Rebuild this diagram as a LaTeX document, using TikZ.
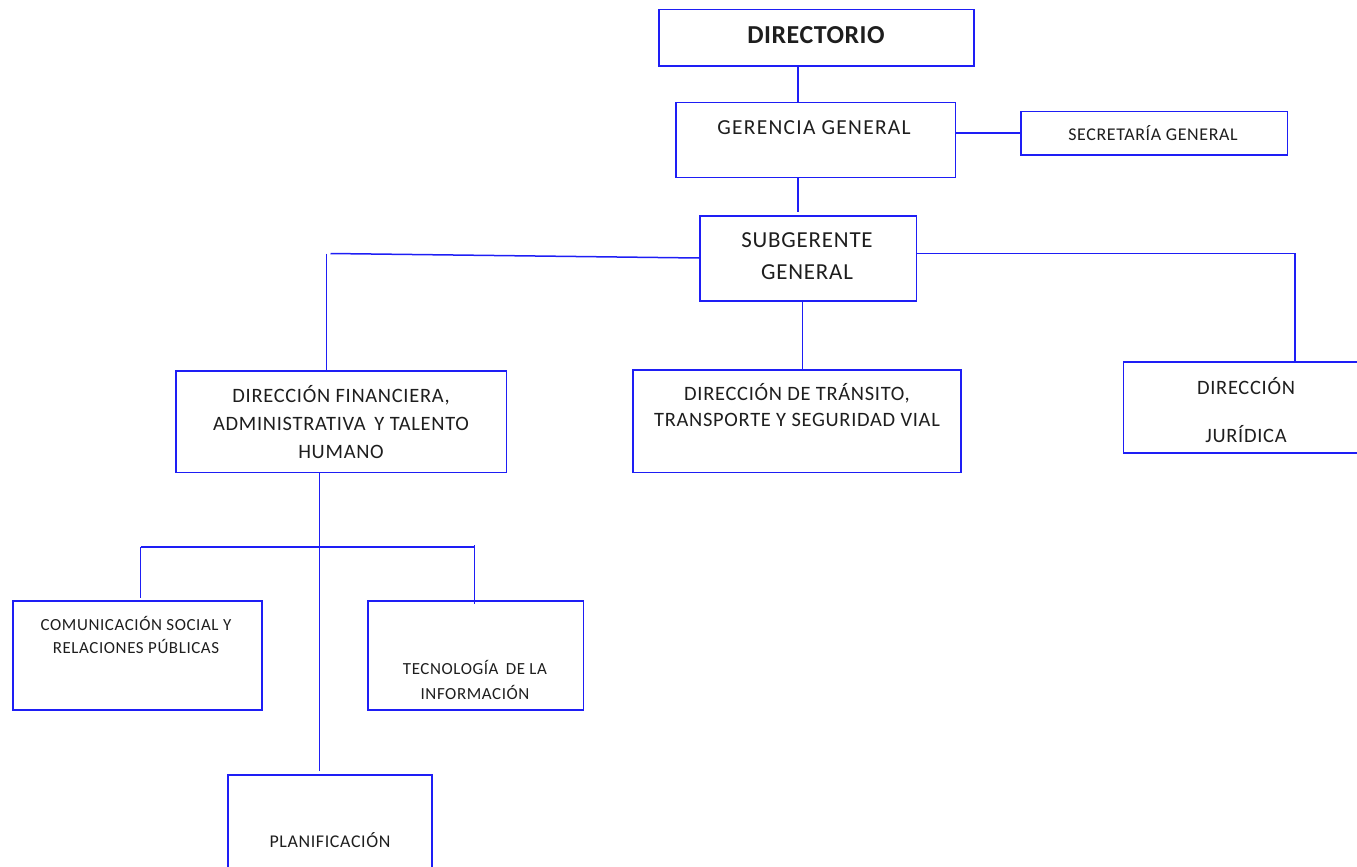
\documentclass[tikz,border=0pt]{standalone}
\usepackage{fontspec}
\setmainfont{Carlito}[LetterSpace=3.5]
\newfontfamily\lsw{Carlito}[LetterSpace=6]
\newfontfamily\lsb{Carlito}[LetterSpace=2,BoldFont={Carlito Bold}]
\definecolor{ln}{RGB}{30,30,245}
\definecolor{tx}{RGB}{30,30,30}
\begin{document}
\begin{tikzpicture}[x=1bp,y=-1bp,
  bx/.style={draw=ln,line width=1.5bp,fill=white,inner sep=0pt},
  lk/.style={draw=ln,line width=1.5bp},
  tt/.style={text=tx,align=center,inner sep=0pt,anchor=center}]
\useasboundingbox (0,0) rectangle (1357,866);
% boxes
\node[bx,minimum width=315bp,minimum height=56.5bp] (dir) at (816.5,37.75) {};
\node[bx,minimum width=279.5bp,minimum height=75bp] (gg) at (815.75,140) {};
\node[bx,minimum width=266.5bp,minimum height=43.5bp] (sec) at (1154.25,133.25) {};
\node[bx,minimum width=216.5bp,minimum height=85bp] (sub) at (808.25,258.5) {};
\node[bx,minimum width=330.5bp,minimum height=101.5bp] (dfa) at (341.25,421.75) {};
\node[bx,minimum width=328bp,minimum height=102.5bp] (dtt) at (797,421.25) {};
\node[bx,minimum width=238.5bp,minimum height=91bp] (dj) at (1242.75,407.5) {};
\node[bx,minimum width=249bp,minimum height=109bp] (com) at (137.5,655.5) {};
\node[bx,minimum width=215.5bp,minimum height=109bp] (tec) at (475.75,655.5) {};
\node[bx,minimum width=204bp,minimum height=95bp] (pla) at (330,822.5) {};
% texts
\node[tt,font=\lsb\fontsize{26}{30}\selectfont\bfseries] (tdir) at (816,35) {DIRECTORIO};
\node[tt,font=\lsw\fontsize{21.5}{26}\selectfont] (tgg) at (814,128) {GERENCIA GENERAL};
\node[tt,font=\fontsize{18}{22}\selectfont] (tsec) at (1153,133) {SECRETARÍA GENERAL};
\node[tt,font=\fontsize{23}{32}\selectfont] (tsub) at (807,256) {SUBGERENTE\\GENERAL};
\node[tt,font=\fontsize{20.5}{28}\selectfont] (tdfa) at (341,422) {DIRECCIÓN FINANCIERA,\\ADMINISTRATIVA\, Y TALENTO\\HUMANO};
\node[tt,font=\fontsize{20.5}{26}\selectfont] (tdtt) at (797,405) {DIRECCIÓN DE TRÁNSITO,\\TRANSPORTE Y SEGURIDAD VIAL};
\node[tt,font=\fontsize{20.5}{48}\selectfont] (tdj) at (1246,410) {DIRECCIÓN\\JURÍDICA};
\node[tt,font=\fontsize{17}{24}\selectfont] (tcom) at (136,635) {COMUNICACIÓN SOCIAL Y\\RELACIONES PÚBLICAS};
\node[tt,font=\fontsize{17}{26}\selectfont] (ttec) at (475,680) {TECNOLOGÍA\, DE LA\\INFORMACIÓN};
\node[tt,font=\fontsize{18}{22}\selectfont] (tpla) at (330,840) {PLANIFICACIÓN};
% connectors
\coordinate (lefttop) at (330.5,253.5);
\coordinate (comtop) at (140.5,547);
\coordinate (tectop) at (474.5,545);
\draw[lk] (dir.south -| 798,0) -- (gg.north -| 798,0);
\draw[lk] (gg.south -| 798,0) -- (798,212);
\draw[lk] (gg.east |- 0,133) -- (sec.west |- 0,133);
\draw[lk] (sub.west |- 0,258) -- (lefttop);
\draw[lk] (326.5,253.5) -- (dfa.north -| 326.5,0);
\draw[lk] (sub.east |- 0,253.5) -- (1295,253.5) -- (dj.north -| 1295,0);
\draw[lk] (sub.south -| 802.5,0) -- (dtt.north -| 802.5,0);
\draw[lk] (dfa.south -| 319.5,0) -- (319.5,771);
\draw[lk] (comtop) -- (474.5,547);
\draw[lk] (comtop) -- (140.5,598);
\draw[lk] (tectop) -- (474.5,604);
\end{tikzpicture}
\end{document}
